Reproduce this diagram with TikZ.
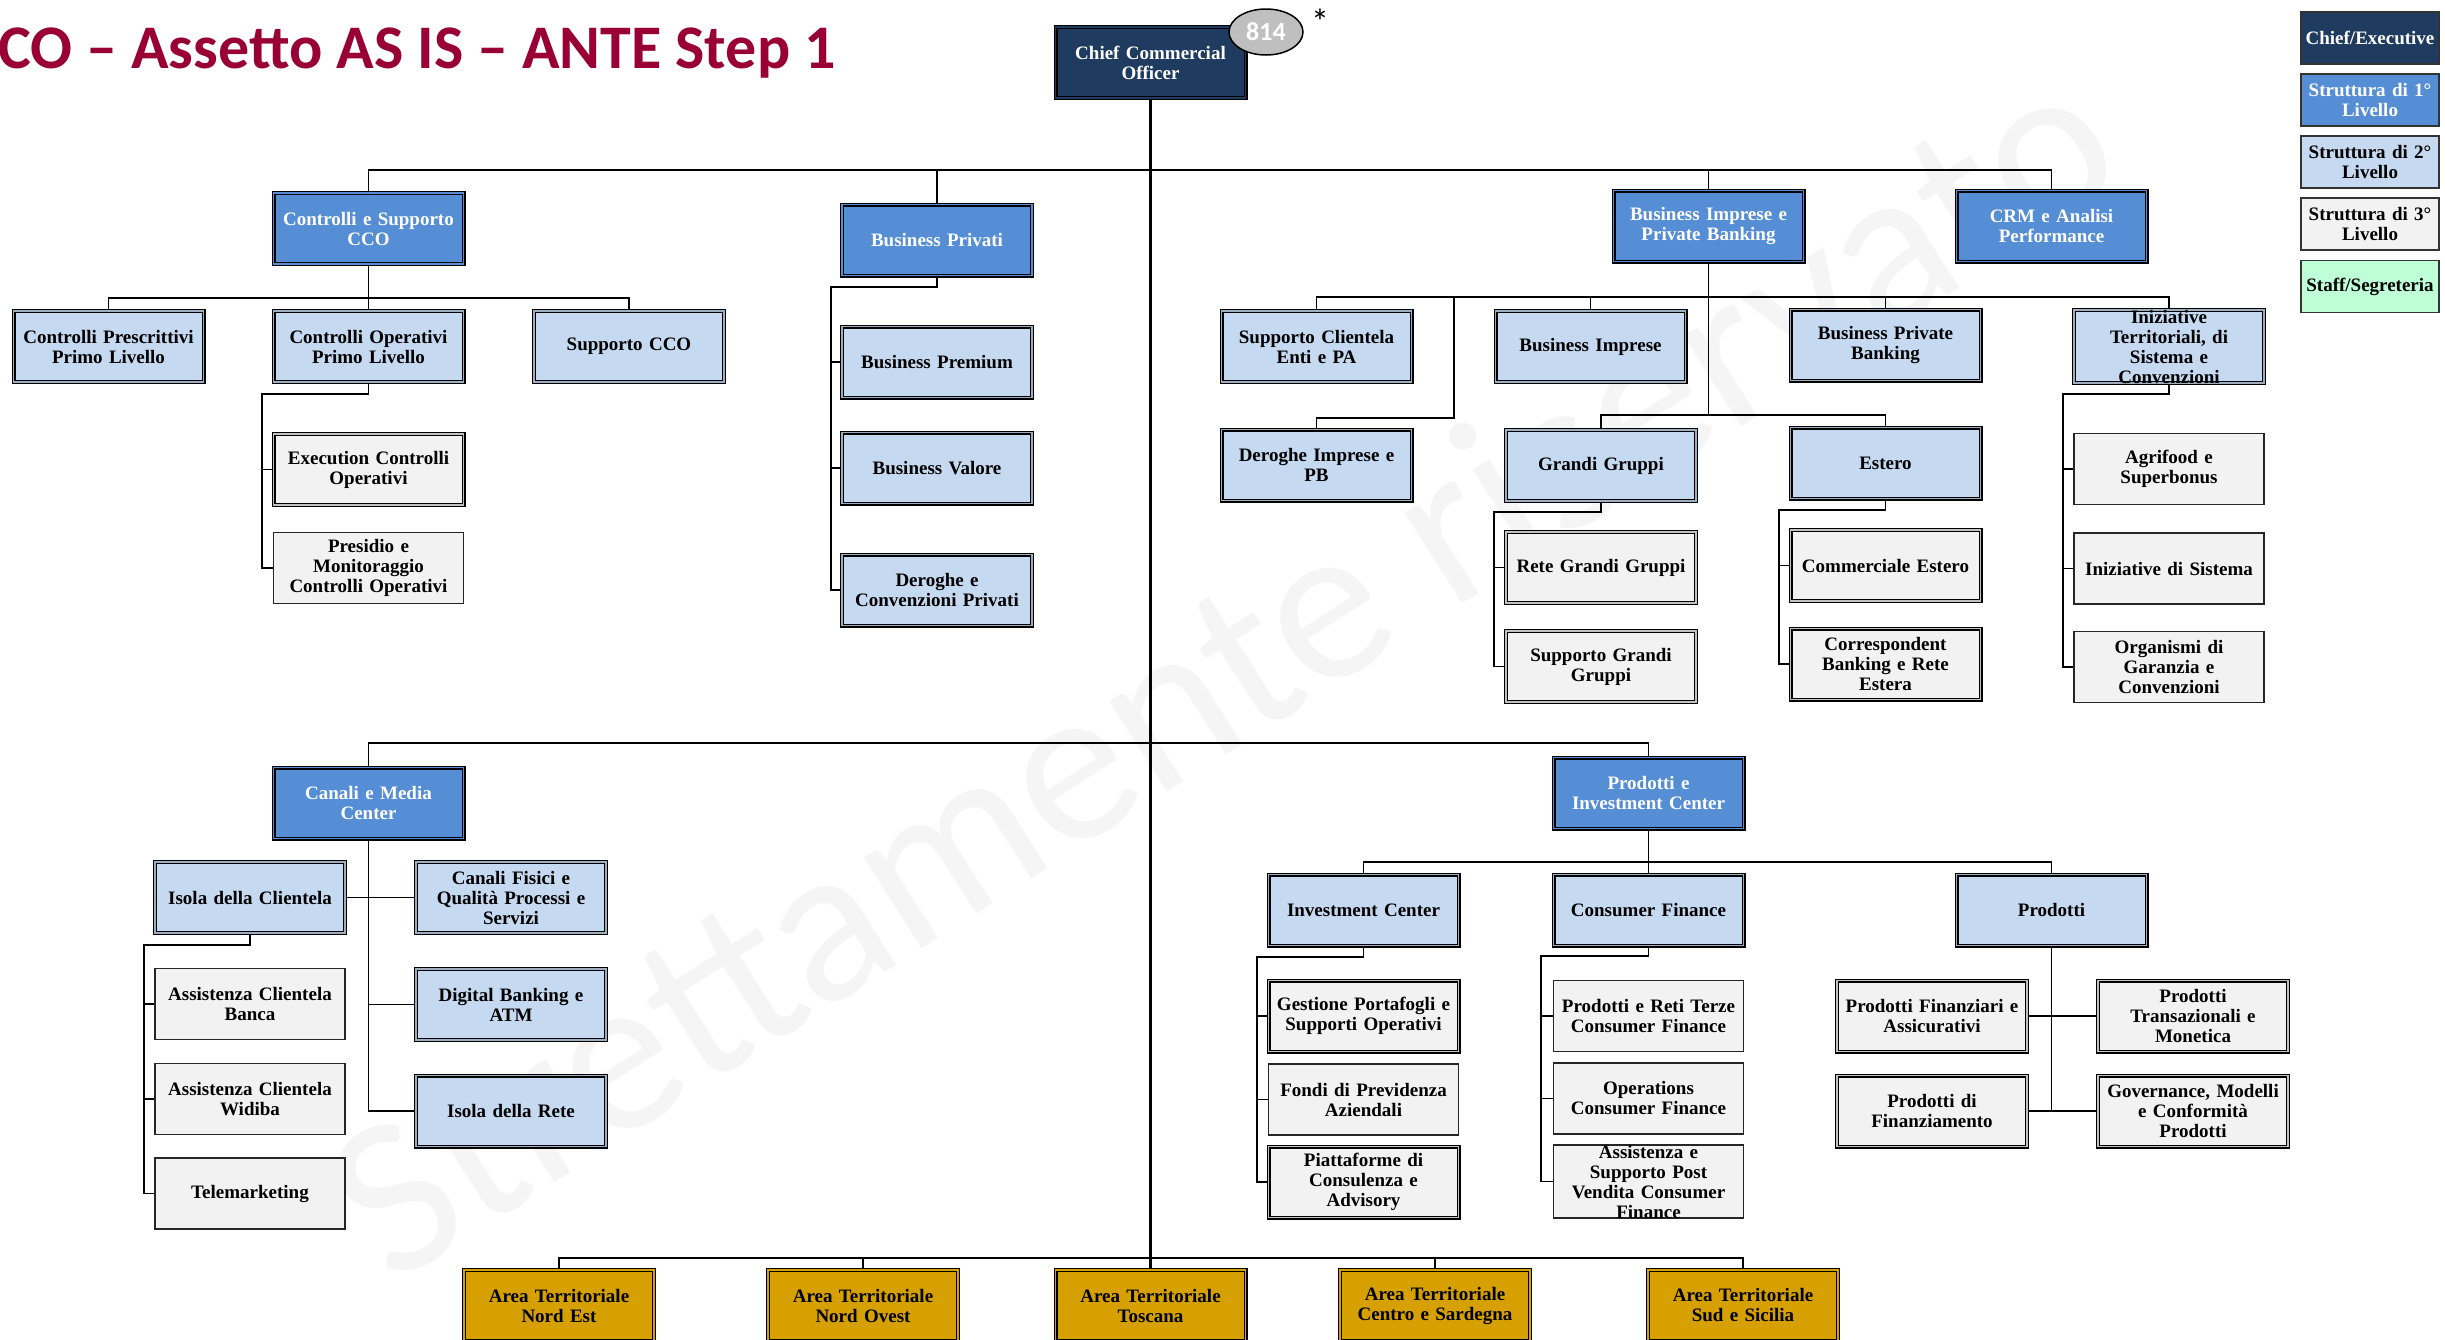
\documentclass[tikz,border=0pt]{standalone}
\usepackage{fontspec}
\setmainfont{Liberation Serif}
\newfontfamily\titlefont{Carlito}
\usetikzlibrary{shapes.geometric}
\definecolor{colChief}{RGB}{31,59,96}
\definecolor{colA}{RGB}{85,142,213}
\definecolor{colB}{RGB}{197,217,241}
\definecolor{colC}{RGB}{242,242,242}
\definecolor{colStaff}{RGB}{190,255,216}
\definecolor{colGold}{RGB}{214,160,0}
\definecolor{colTitle}{RGB}{153,0,51}
\definecolor{colOval}{RGB}{191,191,191}
\newcommand{\boxfont}{\bfseries\fontsize{19}{20}\selectfont}
\begin{document}
\begin{tikzpicture}[x=1pt,y=-1pt,
  box/.style={rectangle, minimum width=190pt, minimum height=71pt, text width=186pt,
    align=center, inner sep=0pt, font=\boxfont},
  dbl/.style={draw=black, line width=1.2pt, double=#1, double distance=1.6pt},
  sgl/.style={draw=black!85, line width=1.4pt},
  chiefbox/.style={box, fill=colChief, text=white, dbl=colChief},
  lvone/.style={box, fill=colA, text=white, dbl=colA},
  lvtwo/.style={box, fill=colB, dbl=colB!80!black},
  lvthreeD/.style={box, fill=colC, dbl=colC!80!black},
  lvthreeS/.style={box, fill=colC, sgl},
  areabox/.style={box, fill=colGold, dbl=colGold},
  legbox/.style={rectangle, minimum width=138pt, minimum height=52pt, text width=136pt,
    align=center, inner sep=0pt, font=\boxfont, draw=black!80, line width=1.5pt},
  conn/.style={draw=black, line width=1.8pt},
  trunk/.style={draw=black, line width=2.6pt}
]
\useasboundingbox (0,0) rectangle (2445,1339);

% watermark
\node[rotate=32.5, text=black!4, inner sep=0pt, font=\titlefont\fontsize{225}{225}\selectfont] (wm) at (1220,668) {Strettamente riservato};

% title
\node[anchor=base west, inner sep=0pt, text=colTitle, font=\titlefont\bfseries\fontsize{62}{62}\selectfont] (title) at (-2,68) {CO – Assetto AS IS – ANTE Step 1};

% chief
\node[chiefbox] (cco) at (1150.5,62.5) {Chief Commercial\\Officer};
\node[ellipse, fill=colOval, draw=black, line width=1.5pt, minimum width=74pt, minimum height=46pt, inner sep=0pt,
  text=white, font=\titlefont\bfseries\fontsize{26}{26}\selectfont] (num) at (1266,32) {814};
\node[inner sep=0pt, font=\titlefont\fontsize{36}{36}\selectfont] (ast) at (1320,22) {*};

% legend
\node[legbox, fill=colChief, text=white] (lgA) at (2370,38) {Chief/Executive};
\node[legbox, fill=colA, text=white] (lgB) at (2370,100) {Struttura di 1°\\Livello};
\node[legbox, fill=colB] (lgC) at (2370,162) {Struttura di 2°\\Livello};
\node[legbox, fill=colC] (lgD) at (2370,224) {Struttura di 3°\\Livello};
\node[legbox, fill=colStaff] (lgE) at (2370,286.5) {Staff/Segreteria};

% level 1 top
\node[lvone] (cs) at (368.5,228.5) {Controlli e Supporto\\CCO};
\node[lvone] (bp) at (937,240) {Business Privati};
\node[lvone] (bipb) at (1708.5,226) {Business Imprese e\\Private Banking};
\node[lvone] (crm) at (2051.5,226) {CRM e Analisi\\Performance};

% Controlli children
\node[lvtwo] (cpl) at (108.5,346.5) {Controlli Prescrittivi\\Primo Livello};
\node[lvtwo] (col) at (368.5,346.5) {Controlli Operativi\\Primo Livello};
\node[lvtwo] (scco) at (629,346.5) {Supporto CCO};
\node[lvthreeD] (eco) at (368.5,469.5) {Execution Controlli\\Operativi};
\node[lvthreeS] (pmc) at (368.5,568) {Presidio e\\Monitoraggio\\Controlli Operativi};

% Business Privati children
\node[lvtwo] (bpr) at (937,362) {Business Premium};
\node[lvtwo] (bva) at (937,468) {Business Valore};
\node[lvtwo] (dcp) at (937,590) {Deroghe e\\Convenzioni Privati};

% BIPB children
\node[lvtwo] (scep) at (1316.5,346.5) {Supporto Clientela\\Enti e PA};
\node[lvtwo] (dip) at (1316.5,465) {Deroghe Imprese e\\PB};
\node[lvtwo] (bim) at (1590.5,346.5) {Business Imprese};
\node[lvtwo] (bpbk) at (1885.5,345) {Business Private\\Banking};
\node[lvtwo] (itsc) at (2169,346.5) {Iniziative\\Territoriali, di\\Sistema e\\Convenzioni};
\node[lvtwo] (gg) at (1601,465.5) {Grandi Gruppi};
\node[lvtwo] (est) at (1885.5,463) {Estero};
\node[lvthreeD] (rgg) at (1601,567.5) {Rete Grandi Gruppi};
\node[lvthreeD] (sgg) at (1601,666.5) {Supporto Grandi\\Gruppi};
\node[lvthreeD] (ce) at (1885.5,565.5) {Commerciale Estero};
\node[lvthreeD] (cbre) at (1885.5,664) {Correspondent\\Banking e Rete\\Estera};
\node[lvthreeS] (agr) at (2169,469) {Agrifood e\\Superbonus};
\node[lvthreeS] (ids) at (2169,568.5) {Iniziative di Sistema};
\node[lvthreeS] (ogc) at (2169,667) {Organismi di\\Garanzia e\\Convenzioni};

% Canali e Media Center
\node[lvone] (cmc) at (368.5,803) {Canali e Media\\Center};
\node[lvtwo] (idc) at (250,897.5) {Isola della Clientela};
\node[lvtwo] (cfq) at (511,897.5) {Canali Fisici e\\Qualità Processi e\\Servizi};
\node[lvtwo] (dba) at (511,1004.5) {Digital Banking e\\ATM};
\node[lvtwo] (idr) at (511,1111) {Isola della Rete};
\node[lvthreeS] (acb) at (250,1004) {Assistenza Clientela\\Banca};
\node[lvthreeS] (acw) at (250,1099) {Assistenza Clientela\\Widiba};
\node[lvthreeS] (tel) at (250,1193.5) {Telemarketing};

% Prodotti e Investment Center
\node[lvone] (pic) at (1648.5,793) {Prodotti e\\Investment Center};
\node[lvtwo] (ic) at (1363.5,910) {Investment Center};
\node[lvtwo] (cf) at (1648.5,910) {Consumer Finance};
\node[lvtwo] (pr) at (2051.5,910) {Prodotti};
\node[lvthreeD] (gps) at (1363.5,1016) {Gestione Portafogli e\\Supporti Operativi};
\node[lvthreeS] (fpa) at (1363.5,1099.5) {Fondi di Previdenza\\Aziendali};
\node[lvthreeD] (pca) at (1363.5,1182) {Piattaforme di\\Consulenza e\\Advisory};
\node[lvthreeS] (prt) at (1648.5,1016) {Prodotti e Reti Terze\\Consumer Finance};
\node[lvthreeS] (ocf) at (1648.5,1098.5) {Operations\\Consumer Finance};
\node[lvthreeS] (asp) at (1648.5,1181.5) {Assistenza e\\Supporto Post\\Vendita Consumer\\Finance};
\node[lvthreeD] (pfa) at (1932,1016) {Prodotti Finanziari e\\Assicurativi};
\node[lvthreeD] (pdf) at (1932,1111) {Prodotti di\\Finanziamento};
\node[lvthreeD] (ptm) at (2193,1016) {Prodotti\\Transazionali e\\Monetica};
\node[lvthreeD] (gmc) at (2193,1111) {Governance, Modelli\\e Conformità\\Prodotti};

% Aree territoriali
\node[areabox] (ane) at (559,1305.5) {Area Territoriale\\Nord Est};
\node[areabox] (ano) at (863,1305.5) {Area Territoriale\\Nord Ovest};
\node[areabox] (ato) at (1150.5,1305.5) {Area Territoriale\\Toscana};
\node[areabox] (acs) at (1435,1305.5) {Area Territoriale\\Centro e Sardegna};
\node[areabox] (ass) at (1743,1305.5) {Area Territoriale\\Sud e Sicilia};

% junction coordinates
\coordinate (busA) at (1150.5,170);
\coordinate (busCS) at (368.5,298);
\coordinate (elbCO) at (262,394);
\coordinate (elbBP) at (831,287);
\coordinate (busBI) at (1708.5,297);
\coordinate (jDIP) at (1454,297);
\coordinate (elbDIP) at (1454,418);
\coordinate (busGE) at (1708.5,415);
\coordinate (elbGG) at (1494,512);
\coordinate (elbES) at (1779,510);
\coordinate (elbIT) at (2063,394);
\coordinate (busD) at (1150.5,743);
\coordinate (elbIC) at (144,945);
\coordinate (busE) at (1648.5,862);
\coordinate (elbINV) at (1257,957);
\coordinate (elbCF) at (1541,956);
\coordinate (busF) at (1150.5,1258);

% connectors
\draw[trunk] (cco.south) -- (ato.north);
\draw[conn] (cs.north) |- (busA) -| (crm.north);
\draw[conn] (bp.north) -- (bp.north |- busA);
\draw[conn] (bipb.north) -- (bipb.north |- busA);

\draw[conn] (cs.south) -- (col.north);
\draw[conn] (cpl.north) |- (busCS) -| (scco.north);
\draw[conn] (col.south) |- (elbCO) |- (pmc.west);
\draw[conn] (eco.west -| elbCO) -- (eco.west);

\draw[conn] (bp.south) |- (elbBP) |- (dcp.west);
\draw[conn] (bpr.west -| elbBP) -- (bpr.west);
\draw[conn] (bva.west -| elbBP) -- (bva.west);

\draw[conn] (bipb.south) -- (busGE);
\draw[conn] (scep.north) |- (busBI) -| (itsc.north);
\draw[conn] (bim.north) -- (bim.north |- busBI);
\draw[conn] (bpbk.north) -- (bpbk.north |- busBI);
\draw[conn] (jDIP) -- (elbDIP) -| (dip.north);
\draw[conn] (gg.north) |- (busGE) -| (est.north);
\draw[conn] (gg.south) |- (elbGG) |- (sgg.west);
\draw[conn] (rgg.west -| elbGG) -- (rgg.west);
\draw[conn] (est.south) |- (elbES) |- (cbre.west);
\draw[conn] (ce.west -| elbES) -- (ce.west);
\draw[conn] (itsc.south) |- (elbIT) |- (ogc.west);
\draw[conn] (agr.west -| elbIT) -- (agr.west);
\draw[conn] (ids.west -| elbIT) -- (ids.west);

\draw[conn] (cmc.north) |- (busD) -| (pic.north);
\draw[conn] (cmc.south) |- (idr.west);
\draw[conn] (idc.east) -- (cfq.west);
\draw[conn] (dba.west -| cmc.south) -- (dba.west);
\draw[conn] (idc.south) |- (elbIC) |- (tel.west);
\draw[conn] (acb.west -| elbIC) -- (acb.west);
\draw[conn] (acw.west -| elbIC) -- (acw.west);

\draw[conn] (pic.south) -- (cf.north);
\draw[conn] (ic.north) |- (busE) -| (pr.north);
\draw[conn] (ic.south) |- (elbINV) |- (pca.west);
\draw[conn] (gps.west -| elbINV) -- (gps.west);
\draw[conn] (fpa.west -| elbINV) -- (fpa.west);
\draw[conn] (cf.south) |- (elbCF) |- (asp.west);
\draw[conn] (prt.west -| elbCF) -- (prt.west);
\draw[conn] (ocf.west -| elbCF) -- (ocf.west);
\draw[conn] (pr.south) -- (pr.south |- pdf.east);
\draw[conn] (pfa.east) -- (ptm.west);
\draw[conn] (pdf.east) -- (gmc.west);

\draw[trunk] (ane.north) |- (busF) -| (ass.north);
\draw[conn] (ano.north) -- (ano.north |- busF);
\draw[conn] (acs.north) -- (acs.north |- busF);
\end{tikzpicture}
\end{document}
